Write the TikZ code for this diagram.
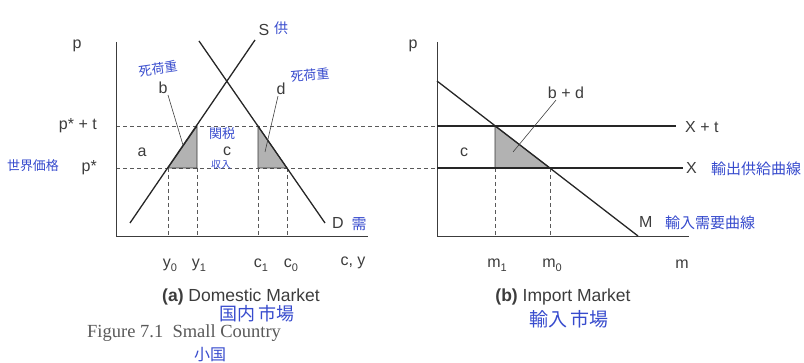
\documentclass[tikz,border=0pt]{standalone}
\usepackage{fontspec}
\setmainfont{Liberation Sans}
\newfontfamily\capfont{Liberation Serif}
\newfontfamily\jpfont{Noto Sans CJK JP}
\definecolor{handblue}{RGB}{55,75,205}
\definecolor{inkgray}{RGB}{60,60,60}
\newcommand{\qsub}[2]{#1\raisebox{-0.5ex}{\fontsize{11}{11}\selectfont #2}}

\begin{document}
\begin{tikzpicture}[
    x=1pt, y=-1pt,
    ax/.style={draw=inkgray, line width=1pt},
    crv/.style={draw=black!85, line width=1.3pt},
    guide/.style={draw=black!65, dash pattern=on 4pt off 3pt, line width=0.6pt},
    lead/.style={draw=black!75, line width=0.6pt},
    dwl/.style={fill=black!30, draw=black!80, line width=0.9pt},
    lbl/.style={font=\fontsize{16}{18}\selectfont, text=inkgray, inner sep=1pt},
    ttl/.style={font=\fontsize{17.5}{20}\selectfont, text=inkgray, inner sep=0pt},
    hand/.style={font=\jpfont\fontsize{13}{15}\selectfont, text=handblue, inner sep=0pt},
  ]
  \useasboundingbox (0,0) rectangle (804,363);

  % (a) domestic market
  \coordinate (pA) at (116,42);
  \coordinate (oA) at (116,237);
  \coordinate (qA) at (368,237);
  \coordinate (sLo) at (130,223);
  \coordinate (sHi) at (255,40);
  \coordinate (dHi) at (199,41);
  \coordinate (dLo) at (325,223);
  \coordinate (y0pt) at (168,168);
  \coordinate (y1pt) at (197,126);
  \coordinate (c1pt) at (258,126);
  \coordinate (c0pt) at (287,168);
  \coordinate (y1low) at (197,168);
  \coordinate (c1low) at (258,168);

  % (b) import market
  \coordinate (pB) at (437,42);
  \coordinate (oB) at (437,237);
  \coordinate (qB) at (689,237);
  \coordinate (mHi) at (437,81);
  \coordinate (mLo) at (638,236);
  \coordinate (m1pt) at (495,126);
  \coordinate (m0pt) at (550,168);
  \coordinate (m1low) at (495,168);
  \coordinate (xtEnd) at (676,126);
  \coordinate (xEnd) at (683,168);
  \coordinate (xtStart) at (437,126);
  \coordinate (xStart) at (437,168);

  % price levels across both panels
  \draw[guide] (116,126) -- (xtStart);
  \draw[guide] (116,168) -- (xStart);

  \filldraw[dwl] (y0pt) -- (y1pt) -- (y1low) -- cycle;
  \filldraw[dwl] (c1pt) -- (c1low) -- (c0pt) -- cycle;
  \filldraw[dwl] (m1pt) -- (m1low) -- (m0pt) -- cycle;

  \foreach \pt in {y0pt,y1low,c1low,c0pt}
    \draw[guide] (\pt) -- (\pt |- oA);
  \foreach \pt in {m1low,m0pt}
    \draw[guide] (\pt) -- (\pt |- oB);

  \draw[ax] (pA) -- (oA) -- (qA);
  \draw[ax] (pB) -- (oB) -- (qB);
  \draw[crv] (sLo) -- (sHi);
  \draw[crv] (dHi) -- (dLo);
  \draw[crv] (mHi) -- (mLo);
  \draw[crv] (xtStart) -- (xtEnd);
  \draw[crv] (xStart) -- (xEnd);

  % labels, panel (a)
  \node[lbl] (pa) at (77,46) {p};
  \node[lbl, anchor=east] (pst) at (98,126) {p* + t};
  \node[lbl, anchor=east] (ps) at (98,168) {p*};
  \node[lbl] (la) at (142,152) {a};
  \node[lbl] (lc) at (227,151) {c};
  \node[lbl] (lb) at (163,88) {b};
  \node[lbl] (ld) at (281,89) {d};
  \node[lbl] (lS) at (264,30) {S};
  \node[lbl] (lD) at (338,223) {D};
  \coordinate (bpt) at (183,145);
  \coordinate (dpt) at (265,152);
  \draw[lead] ([xshift=5pt]lb.south) -- (bpt);
  \draw[lead] ([xshift=-3pt]ld.south) -- (dpt);
  \node[lbl] (ly0) at (170,265) {\qsub{y}{0}};
  \node[lbl] (ly1) at (199,265) {\qsub{y}{1}};
  \node[lbl] (lc1) at (261,265) {\qsub{c}{1}};
  \node[lbl] (lc0) at (291,265) {\qsub{c}{0}};
  \node[lbl] (lcy) at (353,263) {c, y};
  \node[ttl] (tA) at (241,297) {\textbf{(a)} Domestic Market};

  % labels, panel (b)
  \node[lbl] (pb) at (413,46) {p};
  \node[lbl] (lcb) at (464,152) {c};
  \node[lbl] (lbd) at (566,93) {b + d};
  \coordinate (bdpt) at (513,152);
  \draw[lead] ([xshift=-10pt]lbd.south) -- (bdpt);
  \node[lbl, anchor=west] (lXt) at (684,127) {X + t};
  \node[lbl, anchor=west] (lX) at (685,168) {X};
  \node[lbl, anchor=west] (lM) at (638,222) {M};
  \node[lbl] (lm1) at (497,265) {\qsub{m}{1}};
  \node[lbl] (lm0) at (552,265) {\qsub{m}{0}};
  \node[lbl] (lm) at (682,264) {m};
  \node[ttl] (tB) at (563,297) {\textbf{(b)} Import Market};

  \node[anchor=west, inner sep=0pt, text=black!65, font=\capfont\fontsize{18.5}{20}\selectfont]
    (fig) at (87,333) {Figure 7.1\ \ Small Country};

  % handwritten notes
  \node[hand, font=\jpfont\fontsize{14}{16}\selectfont] (hS) at (281,28) {供};
  \node[hand, rotate=8] (hb) at (158,69) {死荷重};
  \node[hand, rotate=5] (hd) at (310,75) {死荷重};
  \node[hand] (hc1) at (222,134) {関税};
  \node[hand, font=\jpfont\fontsize{10}{12}\selectfont] (hc2) at (221,165) {収入};
  \node[hand] (hw) at (33,166) {世界価格};
  \node[hand, font=\jpfont\fontsize{15}{17}\selectfont] (hD) at (359,224) {需};
  \node[hand, font=\jpfont\fontsize{15}{17}\selectfont] (hX) at (756,169) {輸出供給曲線};
  \node[hand, font=\jpfont\fontsize{15}{17}\selectfont] (hM) at (710,223) {輸入需要曲線};
  \node[hand, font=\jpfont\fontsize{18}{20}\selectfont] (hA) at (257,314) {国内\,市場};
  \node[hand, font=\jpfont\fontsize{19}{21}\selectfont] (hB) at (569,319) {輸入\,市場};
  \node[hand, font=\jpfont\fontsize{16}{18}\selectfont] (hF) at (210,355) {小国};
\end{tikzpicture}
\end{document}
